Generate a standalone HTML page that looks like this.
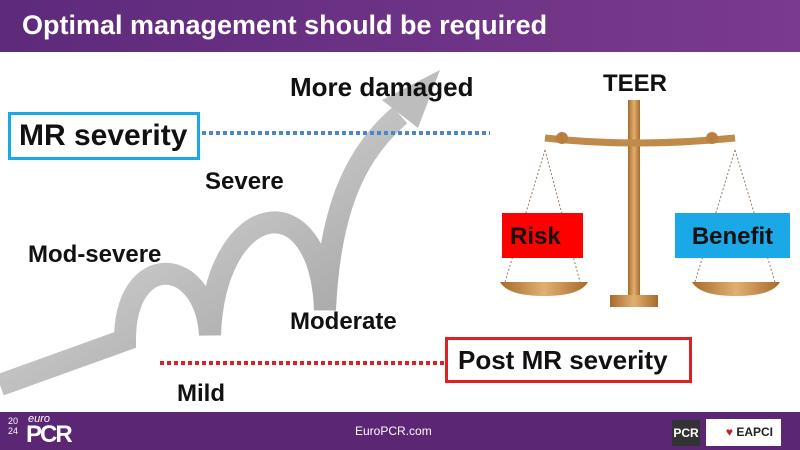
<!DOCTYPE html>
<html><head><style>
body{margin:0;width:800px;height:450px;position:relative;overflow:hidden;background:#fff;font-family:"Liberation Sans",sans-serif}
.t{position:absolute;font-weight:bold;color:#111;white-space:nowrap}
</style></head><body>
<div style="position:absolute;left:0;top:0;width:800px;height:52px;background:linear-gradient(90deg,#5e2a7c,#7a3a8e)"></div>
<div class="t" style="left:22px;top:10px;font-size:27px;color:#fff">Optimal management should be required</div>
<svg width="800" height="450" style="position:absolute;left:0;top:0">
<defs><linearGradient id="g" x1="0" y1="0" x2="1" y2="1"><stop offset="0" stop-color="#e8e8e8"/><stop offset="1" stop-color="#9a9a9a"/></linearGradient>
<linearGradient id="b" x1="0" y1="0" x2="1" y2="0"><stop offset="0" stop-color="#a86a2a"/><stop offset="0.5" stop-color="#e0b070"/><stop offset="1" stop-color="#a86a2a"/></linearGradient></defs>
<path d="M0,385 L125,340 C125,250 205,255 210,335 C215,200 320,180 325,310 C330,200 360,150 400,115" fill="none" stroke="url(#g)" stroke-width="22"/>
<polygon points="382,100 440,70 418,128" fill="#bdbdbd"/>
<line x1="202" y1="133" x2="490" y2="133" stroke="#4a86c8" stroke-width="4" stroke-dasharray="4,3"/>
<line x1="160" y1="363" x2="445" y2="363" stroke="#e02020" stroke-width="4" stroke-dasharray="4,3"/>
<rect x="628" y="100" width="12" height="200" fill="url(#b)"/>
<path d="M545,138 Q634,148 735,138" stroke="#c08a4a" stroke-width="7" fill="none"/>
<circle cx="562" cy="138" r="6" fill="#b87f40"/><circle cx="712" cy="138" r="6" fill="#b87f40"/>
<rect x="610" y="295" width="48" height="12" fill="url(#b)"/>
<g stroke="#9a7a5a" stroke-width="1" stroke-dasharray="2,2"><line x1="545" y1="150" x2="505" y2="282"/><line x1="545" y1="150" x2="580" y2="282"/><line x1="735" y1="150" x2="695" y2="282"/><line x1="735" y1="150" x2="775" y2="282"/></g>
<path d="M500,282 L588,282 Q580,296 544,296 Q508,296 500,282Z" fill="url(#b)"/>
<path d="M692,282 L780,282 Q772,296 736,296 Q700,296 692,282Z" fill="url(#b)"/>
</svg>
<div class="t" style="left:603px;top:70px;font-size:24px">TEER</div>
<div class="t" style="left:502px;top:213px;width:81px;height:45px;background:#f00;font-size:24px;line-height:48px;padding-left:8px;box-sizing:border-box">Risk</div>
<div class="t" style="left:675px;top:213px;width:115px;height:45px;background:#1aa8e6;font-size:24px;line-height:48px;text-align:center">Benefit</div>
<div class="t" style="left:290px;top:72px;font-size:26px">More damaged</div>
<div class="t" style="left:8px;top:112px;width:192px;height:48px;border:3px solid #1aa8e6;box-sizing:border-box;font-size:30px;line-height:42px;padding-left:8px">MR severity</div>
<div class="t" style="left:205px;top:168px;font-size:24px">Severe</div>
<div class="t" style="left:28px;top:241px;font-size:24px">Mod-severe</div>
<div class="t" style="left:290px;top:308px;font-size:24px">Moderate</div>
<div class="t" style="left:177px;top:380px;font-size:24px">Mild</div>
<div class="t" style="left:445px;top:337px;width:247px;height:46px;border:3px solid #e02020;box-sizing:border-box;font-size:26px;line-height:40px;padding-left:10px">Post MR severity</div>
<div style="position:absolute;left:0;top:412px;width:800px;height:38px;background:#5b2673"></div>
<div style="position:absolute;left:8px;top:416px;color:#fff;font-size:9px;line-height:10px">20<br>24</div>
<div style="position:absolute;left:28px;top:413px;color:#fff;font-size:11px;font-style:italic">euro</div>
<div class="t" style="left:26px;top:421px;color:#fff;font-size:24px;letter-spacing:-2px">PCR</div>
<div style="position:absolute;left:355px;top:424px;color:#fff;font-size:12px">EuroPCR.com</div>
<div class="t" style="left:672px;top:420px;width:28px;height:26px;background:#333;color:#fff;font-size:12px;line-height:26px;text-align:center">PCR</div>
<div class="t" style="left:706px;top:419px;width:75px;height:27px;background:#fff;color:#222;font-size:12px;line-height:27px;text-align:right;padding-right:8px;box-sizing:border-box"><span style="color:#c0202a">♥</span> EAPCI</div>
</body></html>
